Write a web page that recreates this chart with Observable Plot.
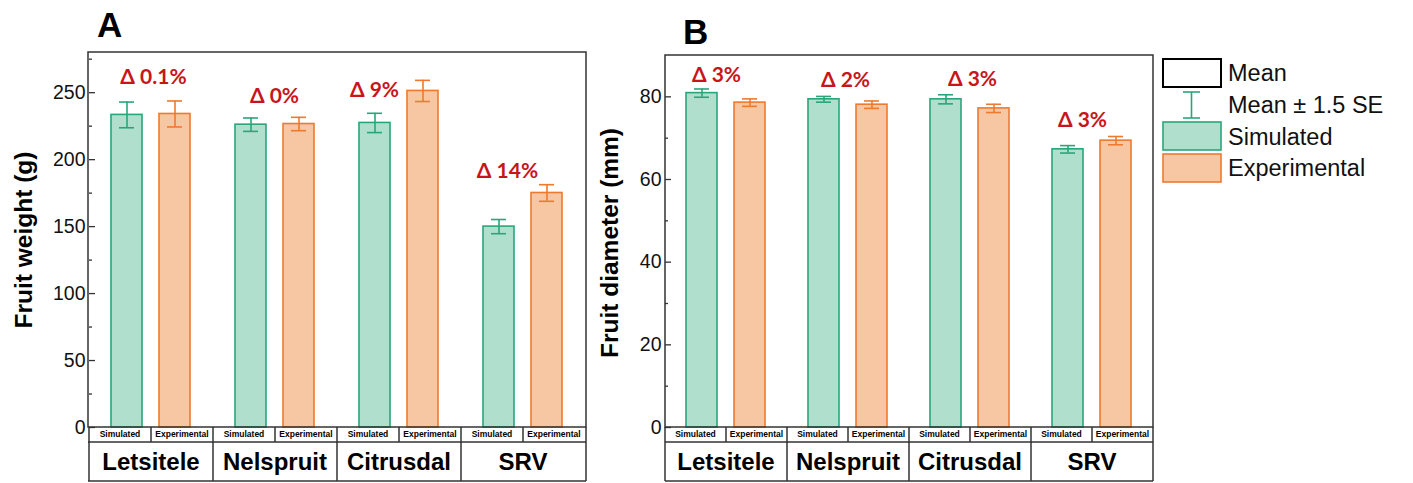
<!DOCTYPE html>
<html><head><meta charset="utf-8">
<script src="https://cdn.jsdelivr.net/npm/d3@7"></script>
<script src="https://cdn.jsdelivr.net/npm/@observablehq/plot@0.6"></script>
<style>
body{margin:0;background:#fff;width:1413px;height:483px;overflow:hidden;position:relative;font-family:"Liberation Sans",Arial,sans-serif;}
.panel{position:absolute;top:0;}
.letter{position:absolute;font-weight:bold;font-size:35px;line-height:1;color:#000;}
</style></head><body>
<div id="A" class="panel" style="left:0px"></div>
<div id="B" class="panel" style="left:580px"></div>
<div class="letter" style="left:97px;top:7px">A</div>
<div class="letter" style="left:683px;top:14px">B</div>
<div id="legend" style="position:absolute;left:1155px;top:50px"></div>
<script>
// ---- data ----
const categories = ["Letsitele", "Nelspruit", "Citrusdal", "SRV"];
const types = ["Simulated", "Experimental"];
const weightSim = [233.4, 226.1, 227.4, 150.0];
const weightSimErr = [9.6, 5.0, 7.2, 5.3];
const weightExp = [234.1, 226.6, 251.3, 175.1];
const weightExpErr = [9.7, 5.0, 7.9, 6.2];
const diamSim = [80.9, 79.4, 79.4, 67.3];
const diamSimErr = [1.0, 0.7, 1.1, 0.9];
const diamExp = [78.6, 78.1, 77.2, 69.4];
const diamExpErr = [0.9, 0.9, 1.0, 1.0];
const weightDelta = ["Δ 0.1%", "Δ 0%", "Δ 9%", "Δ 14%"];
const diamDelta = ["Δ 3%", "Δ 2%", "Δ 3%", "Δ 3%"];
const weightTicks = [0, 50, 100, 150, 200, 250];
const weightMinor = [25, 75, 125, 175, 225, 275];
const diamTicks = [0, 20, 40, 60, 80];
const diamMinor = [10, 30, 50, 70];
const legendLabels = ["Mean", "Mean ± 1.5 SE", "Simulated", "Experimental"];

// ---- annotation placement (delta label anchors, in data units / px offsets) ----
const weightDeltaY = [261.5, 247, 251.5, 191];
const weightDeltaDx = [2, -1, -25, -16];
const diamDeltaY = [85.3, 84.1, 84.3, 74.4];
const diamDeltaDx = [-10, -3, 2, -10];

// ---- styles ----
const RED = "#c8151b";
const SIM_FILL = "#b1dfce", SIM_STROKE = "#2aa57b";
const EXP_FILL = "#f7c6a2", EXP_STROKE = "#ee7a2f";
const FRAME = "#333";
const H = 483;

function panel(o) {
  const rows = categories.flatMap((c, i) => [
    {cat: c, type: "Simulated", v: o.sim[i], e: o.simErr[i]},
    {cat: c, type: "Experimental", v: o.exp[i], e: o.expErr[i]}
  ]);
  const simRows = rows.filter(d => d.type === "Simulated");
  const expRows = rows.filter(d => d.type === "Experimental");
  const errMarks = (data, stroke) => [
    Plot.ruleX(data, {fx: "cat", x: "type", y1: d => d.v - d.e, y2: d => d.v + d.e, stroke, strokeWidth: 1.6}),
    Plot.tickY(data, {fx: "cat", x: "type", y: d => d.v + d.e, stroke, strokeWidth: 1.6, insetLeft: 8, insetRight: 8}),
    Plot.tickY(data, {fx: "cat", x: "type", y: d => d.v - d.e, stroke, strokeWidth: 1.6, insetLeft: 8, insetRight: 8})
  ];
  const labels = o.deltas.map((t, i) => Plot.text([{cat: categories[i], t, y: o.deltaY[i]}], {
    fx: "cat", y: "y", text: "t", dx: o.deltaDx[i], fill: RED, fontSize: 21, fontWeight: "bold",
    fontFamily: "Lato, 'Open Sans', sans-serif", lineAnchor: "middle"
  }));
  const plot = Plot.plot({
    width: o.width, height: H,
    marginLeft: o.mL, marginRight: o.mR, marginTop: o.mT, marginBottom: o.mB,
    style: {fontFamily: "'Liberation Sans', Arial, sans-serif", fontSize: "19px", color: "#111", background: "transparent", overflow: "visible"},
    fx: {domain: categories, padding: 0, axis: null},
    x: {domain: types, paddingInner: 0.347, paddingOuter: 0.443, axis: null},
    y: {domain: [0, o.yMax]},
    marks: [
      Plot.barY(simRows, {fx: "cat", x: "type", y: "v", fill: SIM_FILL, stroke: SIM_STROKE, strokeWidth: 1.6}),
      Plot.barY(expRows, {fx: "cat", x: "type", y: "v", fill: EXP_FILL, stroke: EXP_STROKE, strokeWidth: 1.6}),
      ...errMarks(simRows, SIM_STROKE),
      ...errMarks(expRows, EXP_STROKE),
      ...labels,
      Plot.axisY({ticks: o.major, tickSize: -6, tickPadding: 10, fontSize: 19.5, label: null, stroke: FRAME, strokeWidth: 1.3}),
      Plot.axisY({ticks: o.minor, tickSize: -3, tickFormat: () => "", label: null, stroke: FRAME, strokeWidth: 1.3})
    ]
  });
  const svg = d3.select(plot);
  const x0 = o.mL, x1 = o.width - o.mR, yTop = o.mT, yB = H - o.mB;
  const g = svg.append("g").attr("fill", "none").attr("stroke", FRAME).attr("stroke-width", 1.5);
  g.append("rect").attr("x", x0).attr("y", yTop).attr("width", x1 - x0).attr("height", yB - yTop);
  // category table under the axis, positioned by the fx band scale
  const fx = plot.scale("fx");
  const bw = fx.bandwidth;
  const r1 = yB + 15, r2 = yB + 54;
  g.append("line").attr("x1", x0).attr("x2", x1).attr("y1", r1).attr("y2", r1);
  g.append("line").attr("x1", x0).attr("x2", x1).attr("y1", r2).attr("y2", r2);
  const t = svg.append("g").attr("fill", "#000").attr("text-anchor", "middle").attr("font-weight", "bold")
    .attr("font-family", "'Liberation Sans', Arial, sans-serif");
  categories.forEach((c, i) => {
    const cx = fx.apply(c);
    g.append("line").attr("x1", cx).attr("x2", cx).attr("y1", yB).attr("y2", r2);
    g.append("line").attr("x1", cx + bw / 2).attr("x2", cx + bw / 2).attr("y1", yB).attr("y2", r1);
    types.forEach((ty, j) => {
      t.append("text").attr("x", cx + bw * (j * 2 + 1) / 4).attr("y", (yB + r1) / 2).attr("dy", "0.35em")
        .attr("font-size", 8.5).text(ty);
    });
    t.append("text").attr("x", cx + bw / 2).attr("y", (r1 + r2) / 2).attr("dy", "0.36em")
      .attr("font-size", 24).text(c);
  });
  g.append("line").attr("x1", x1).attr("x2", x1).attr("y1", yB).attr("y2", r2);
  // axis title
  svg.append("text").attr("transform", `translate(${o.titleX},${o.titleY}) rotate(-90)`)
    .attr("text-anchor", "middle").attr("dy", "0.35em").attr("font-weight", "bold").attr("font-size", 24.5)
    .attr("font-family", "'Liberation Sans', Arial, sans-serif").attr("fill", "#000").text(o.title);
  document.getElementById(o.el).appendChild(plot);
}

panel({el: "A", width: 600, mL: 88, mR: 14, mT: 52, mB: 56, yMax: 280,
  sim: weightSim, simErr: weightSimErr, exp: weightExp, expErr: weightExpErr,
  major: weightTicks, minor: weightMinor, deltas: weightDelta, deltaY: weightDeltaY, deltaDx: weightDeltaDx,
  title: "Fruit weight (g)", titleX: 23, titleY: 240});
panel({el: "B", width: 588, mL: 85, mR: 15, mT: 55, mB: 56, yMax: 90,
  sim: diamSim, simErr: diamSimErr, exp: diamExp, expErr: diamExpErr,
  major: diamTicks, minor: diamMinor, deltas: diamDelta, deltaY: diamDeltaY, deltaDx: diamDeltaDx,
  title: "Fruit diameter (mm)", titleX: 29, titleY: 243});

// ---- legend ----
const lg = d3.select("#legend").append("svg").attr("width", 258).attr("height", 140)
  .attr("font-family", "'Liberation Sans', Arial, sans-serif");
lg.append("rect").attr("x", 8).attr("y", 9).attr("width", 58).attr("height", 28).attr("fill", "#fff").attr("stroke", "#000").attr("stroke-width", 2);
const eg = lg.append("g").attr("stroke", SIM_STROKE).attr("stroke-width", 1.6);
eg.append("line").attr("x1", 36.5).attr("x2", 36.5).attr("y1", 42).attr("y2", 68);
eg.append("line").attr("x1", 28).attr("x2", 45).attr("y1", 42).attr("y2", 42);
eg.append("line").attr("x1", 28).attr("x2", 45).attr("y1", 68).attr("y2", 68);
lg.append("rect").attr("x", 8).attr("y", 72).attr("width", 58).attr("height", 28).attr("fill", SIM_FILL).attr("stroke", SIM_STROKE).attr("stroke-width", 1.6);
lg.append("rect").attr("x", 8).attr("y", 104).attr("width", 58).attr("height", 28).attr("fill", EXP_FILL).attr("stroke", EXP_STROKE).attr("stroke-width", 1.6);
[23, 55, 87, 118].forEach((cy, i) => {
  lg.append("text").attr("x", 73).attr("y", cy).attr("dy", "0.35em").attr("font-size", 23.5).attr("fill", "#111").text(legendLabels[i]);
});
</script>
</body></html>
